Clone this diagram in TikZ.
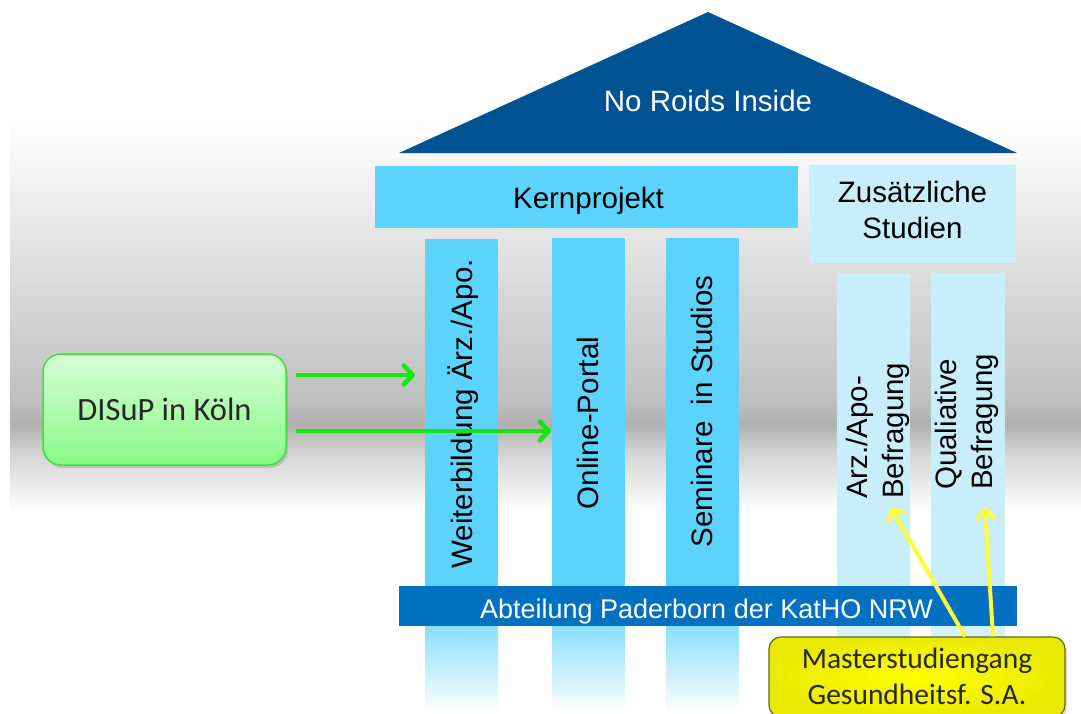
\documentclass[tikz,border=0pt]{standalone}
\usepackage{fontspec}
\setmainfont{Liberation Sans}
\newfontfamily\calfont{Carlito}
\usetikzlibrary{arrows.meta,shadows,calc}
\definecolor{roofblue}{RGB}{0,83,146}
\definecolor{kerncyan}{RGB}{92,211,253}
\definecolor{lightcyan}{RGB}{200,238,252}
\definecolor{barblue}{RGB}{0,112,192}
\definecolor{arrowgreen}{RGB}{20,230,20}
\definecolor{boxgreenT}{RGB}{214,255,214}
\definecolor{boxgreenB}{RGB}{135,248,135}
\definecolor{boxgreenD}{RGB}{60,225,60}
\definecolor{myyellow}{RGB}{255,255,0}
\definecolor{yellowedge}{RGB}{234,234,0}
\definecolor{yellowborder}{RGB}{100,100,30}
\definecolor{yellowline}{RGB}{255,255,60}
\definecolor{txtgray}{RGB}{40,40,40}
\begin{document}
\begin{tikzpicture}[x=1pt,y=-1pt,
  plain/.style={inner sep=0pt,outer sep=0pt,draw=none},
  colk/.style={plain,fill=kerncyan},
  coll/.style={plain,fill=lightcyan},
  arialtext/.style={inner sep=0pt,font=\fontsize{29.5}{36}\selectfont},
  garrow/.style={draw=arrowgreen,line width=4.5pt,line join=round,
    -{Straight Barb[length=9pt,width=19pt,line join=round,round]}},
  yarrow/.style={draw=yellowline,line width=4pt,line join=round,
    -{Straight Barb[length=8pt,width=17pt,line join=round,round]}},
  fadebelow/.style={top color=#1,bottom color=white,draw=none}
]
\useasboundingbox (0,0) rectangle (1081,713);
\clip (0,0) rectangle (1081,713);
\fill[white] (0,0) rectangle (1081,713);
% background band
\shade[top color=white,bottom color=black!16] (10,120) rectangle (1081,300.5);
\shade[top color=black!16,bottom color=black!25] (10,300) rectangle (1081,400.5);
\shade[top color=black!25,bottom color=black!31] (10,400) rectangle (1081,424.5);
\shade[top color=black!31,bottom color=black!18] (10,424) rectangle (1081,450.5);
\shade[top color=black!18,bottom color=white] (10,450) rectangle (1081,512);
% roof
\fill[roofblue] (708,12) -- (1017,153) -- (399,153) -- cycle;
\node[inner sep=0pt,text=white,font=\fontsize{29.5}{36}\selectfont] (rooft) at (708,101) {No Roids Inside};
% Kernprojekt and Zusaetzliche
\node[colk,minimum width=423pt,minimum height=62pt] (kern) at (586.5,196.5) {};
\node[arialtext] (kernt) at (588.5,201) {Kernprojekt};
\node[coll,minimum width=207pt,minimum height=98pt] (zus) at (912.5,214) {};
\node[arialtext,align=center] (zust) at (912.5,210) {Zusätzliche\\Studien};
% columns
\node[colk,minimum width=73pt,minimum height=347pt] (col1) at (461.5,412.5) {};
\node[colk,minimum width=73pt,minimum height=348pt] (col2) at (588.5,412) {};
\node[colk,minimum width=73pt,minimum height=348pt] (col3) at (702.5,412) {};
\node[coll,minimum width=73pt,minimum height=313pt] (col4) at (873.5,429.5) {};
\node[coll,minimum width=74pt,minimum height=313pt] (col5) at (968,429.5) {};
\shade[fadebelow=kerncyan!72!white] (425,626) rectangle (498,713);
\shade[fadebelow=kerncyan!72!white] (552,626) rectangle (625,713);
\shade[fadebelow=kerncyan!72!white] (666,626) rectangle (739,713);
\shade[fadebelow=lightcyan!80!white] (837,626) rectangle (910,713);
\shade[fadebelow=lightcyan!80!white] (931,626) rectangle (1005,713);
% column texts
\node[arialtext,rotate=90] (t1) at (463,414) {Weiterbildung Ärz./Apo.};
\node[arialtext,rotate=90] (t2) at (588,423) {Online-Portal};
\node[arialtext,rotate=90] (t3) at (702,411.5) {Seminare\ \ in Studios};
\node[arialtext,rotate=90,align=left,anchor=west] (t4) at (878,499) {Arz./Apo-\\Befragung};
\node[arialtext,rotate=90,align=left,anchor=west] (t5) at (967,490) {Qualiative\\Befragung};
% base bar
\node[plain,fill=barblue,minimum width=618pt,minimum height=40pt] (bar) at (708,606) {};
\node[inner sep=0pt,text=white,font=\fontsize{27}{32}\selectfont] (bart) at (706.5,611.5) {Abteilung Paderborn der KatHO NRW};
% DISuP box
\node[rounded corners=18pt,minimum width=243pt,minimum height=111pt,inner sep=0pt,
      top color=boxgreenT,bottom color=boxgreenB,draw=boxgreenD,line width=1.5pt,
      drop shadow={opacity=0.3,shadow xshift=2pt,shadow yshift=-3pt},
      text=txtgray,font=\calfont\fontsize{32.5}{38}\selectfont] (disup) at (164.5,409.5) {DISuP in Köln};
% green arrows
\coordinate (a1) at ([xshift=9pt,yshift=34.5pt]disup.east);
\coordinate (a2) at ([xshift=9pt,yshift=-21.5pt]disup.east);
\coordinate (c1) at ([xshift=-10pt]col1.west);
\coordinate (c2) at ([xshift=-1pt]col2.west);
\draw[garrow] (a1) -- (a1 -| c1);
\draw[garrow] (a2) -- (a2 -| c2);
% Masterstudiengang box
\node[rounded corners=12pt,minimum width=296pt,minimum height=80pt,inner sep=0pt,
      inner color=myyellow,outer color=yellowedge,draw=yellowborder,line width=1.2pt,
      drop shadow={opacity=0.25,shadow xshift=2pt,shadow yshift=-3pt}] (ms) at (917,677) {};
\node[inner sep=0pt,align=center,text=txtgray,font=\calfont\fontsize{29.5}{36}\selectfont] (mst) at (917,676) {Masterstudiengang\\Gesundheitsf. S.A.};
% yellow arrows
\coordinate (y1) at (891,508);
\coordinate (y2) at (985,508);
\draw[yarrow] ([xshift=48pt]ms.north) -- (y1);
\draw[yarrow] ([xshift=76pt]ms.north) -- (y2);
\end{tikzpicture}
\end{document}
